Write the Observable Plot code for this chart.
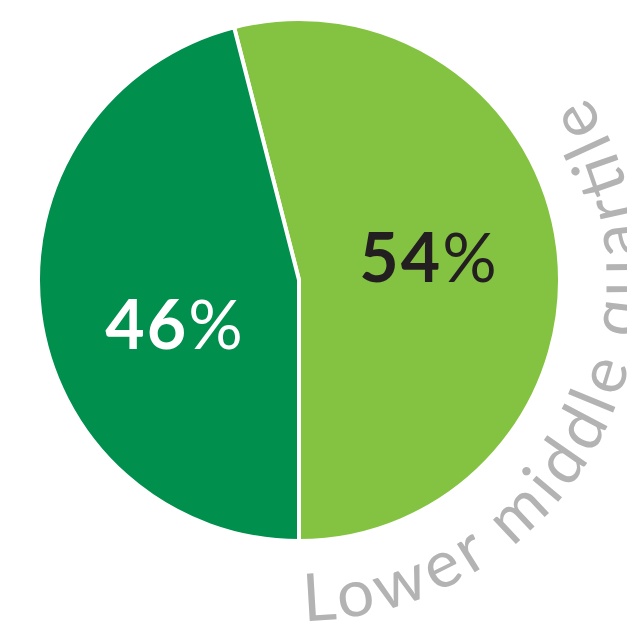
<!DOCTYPE html>
<html><head><meta charset="utf-8">
<script src="https://cdn.jsdelivr.net/npm/d3@7"></script>
<script src="https://cdn.jsdelivr.net/npm/@observablehq/plot@0.6"></script>
<style>body{margin:0;background:#fff;overflow:hidden}</style>
</head><body><div id="chart"></div>
<script>
const categories = ["Group A", "Group B"];
const values = [54, 46];
const valueLabels = ["54", "46"];
const sliceColors = ["#84c341", "#008f4c"];
const labelColors = ["#231f20", "#ffffff"];
const title = "Lower middle quartile";

const total = d3.sum(values);
const start = Math.PI - 2 * Math.PI * values[0] / total;
const pie = d3.pie().sort(null).value(d => d.value).startAngle(start).endAngle(start + 2 * Math.PI);
const data = categories.map((c, i) => ({category: c, value: values[i], label: valueLabels[i], fill: sliceColors[i], ink: labelColors[i]}));
const arcs = pie(data);
const labelNudge = [[-2, -6], [8, 28]];

function pieMark(index, scales, channels, dims) {
  const cx = scales.x(0), cy = scales.y(0);
  const r = scales.x(261) - scales.x(0);
  const rText = scales.x(341) - scales.x(0);
  const g = d3.create("svg:g");
  const arc = d3.arc().innerRadius(0).outerRadius(r);
  g.append("g").attr("transform", `translate(${cx},${cy})`)
    .selectAll("path").data(arcs).join("path")
    .attr("d", arc).attr("fill", d => d.data.fill)
    .attr("stroke", "#fff").attr("stroke-width", 4).attr("stroke-linejoin", "round");
  // labels
  const lab = d3.arc().innerRadius(r * 0.51).outerRadius(r * 0.51);
  const t = g.append("g").attr("transform", `translate(${cx},${cy})`)
    .selectAll("text").data(arcs).join("text")
    .attr("transform", (d, i) => { const [x, y] = lab.centroid(d); return `translate(${x + labelNudge[i][0]},${y + labelNudge[i][1]})`; })
    .attr("text-anchor", "middle").attr("dy", "0.36em")
    .attr("font-family", "Lato, 'Open Sans', sans-serif")
    .attr("font-size", 68).attr("letter-spacing", 2)
    .attr("fill", d => d.data.ink);
  t.append("tspan").attr("font-weight", 700).text(d => d.data.label);
  t.append("tspan").attr("font-weight", 400).text("%");
  // curved title
  const a0 = 179.2 * Math.PI / 180, a1 = 20 * Math.PI / 180;
  const p = d3.path();
  p.moveTo(cx + rText * Math.sin(a0), cy - rText * Math.cos(a0));
  p.arc(cx, cy, rText, a0 - Math.PI / 2, a1 - Math.PI / 2, true);
  g.append("defs").append("path").attr("id", "titleArc").attr("d", p.toString());
  g.append("text")
    .attr("text-anchor", "start")
    .attr("font-family", "Lato, 'Open Sans', sans-serif")
    .attr("font-weight", 400).attr("font-size", 66).attr("fill", "#b3b3b3")
    .append("textPath").attr("href", "#titleArc")
    .attr("textLength", 725).attr("lengthAdjust", "spacing")
    .text(title);
  return g.node();
}

const chart = Plot.plot({
  width: 627, height: 623, margin: 0,
  x: {domain: [-299, 328], range: [0, 627], axis: null},
  y: {domain: [-280, 343], range: [0, 623], axis: null},
  marks: [pieMark]
});
document.getElementById("chart").append(chart);
</script></body></html>
